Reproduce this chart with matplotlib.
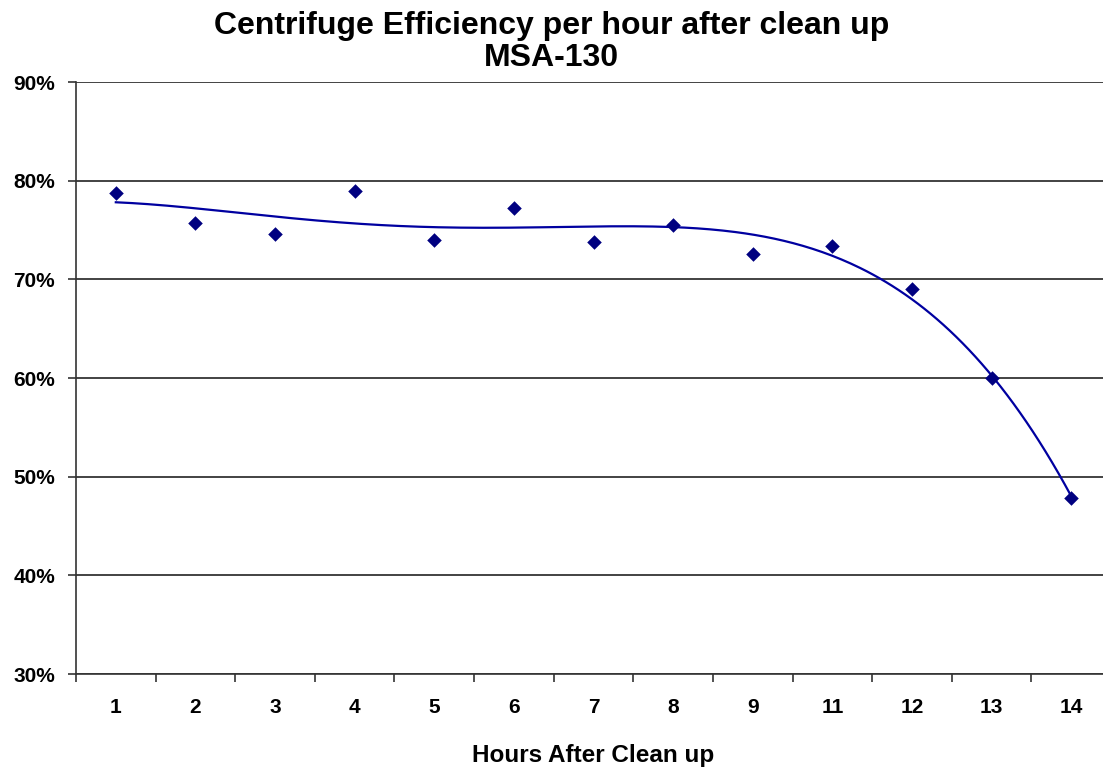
import matplotlib.pyplot as plt
import numpy as np
from matplotlib.ticker import FixedLocator, PercentFormatter

plt.rcParams['font.family'] = ['Liberation Sans', 'DejaVu Sans']
plt.rcParams['font.weight'] = 'bold'

hours = ['1', '2', '3', '4', '5', '6', '7', '8', '9', '11', '12', '13', '14']
efficiency = [78.8, 75.7, 74.6, 79.0, 74.0, 77.2, 73.8, 75.5, 72.6, 73.4, 69.0, 60.0, 47.8]
TREND_DEGREE = 4

fig = plt.figure(figsize=(11.03, 7.67), dpi=100)
ax = fig.add_axes([76 / 1103, 1 - 674 / 767, (1111 - 76) / 1103, (674 - 82) / 767])

x = np.arange(1, len(hours) + 1)
y = np.array(efficiency)

# polynomial trendline like excel
coef = np.polyfit(x, y, TREND_DEGREE)
xs = np.linspace(1, len(hours), 300)
ax.plot(xs, np.polyval(coef, xs), color='#0000a0', lw=1.6, zorder=3)
ax.scatter(x, y, marker='D', s=55, color='#000080', zorder=4, linewidths=0)

ax.set_xlim(0.5, len(hours) + 0.5)
ax.set_ylim(30, 90)
ax.set_yticks(np.arange(30, 91, 10))
ax.yaxis.set_major_formatter(PercentFormatter(decimals=0))
ax.set_xticks(x)
ax.set_xticklabels(hours)
ax.xaxis.set_minor_locator(FixedLocator(np.arange(0.5, len(hours) + 1, 1)))
ax.tick_params(axis='x', which='major', length=0, pad=17, labelsize=15)
ax.tick_params(axis='x', which='minor', length=6, width=1.2, color='#333333')
ax.tick_params(axis='y', length=6, width=1.2, pad=9, labelsize=15, color='#333333')
ax.grid(axis='y', color='#222222', lw=1.2)
ax.set_axisbelow(True)

for side in ['top', 'right']:
    ax.spines[side].set_visible(False)
for side in ['left', 'bottom']:
    ax.spines[side].set_color('#333333')
    ax.spines[side].set_linewidth(1.2)

ax.set_xlabel('Hours After Clean up', fontsize=17.5, fontweight='bold', labelpad=20)
fig.text(0.5, 1 - 11 / 767, 'Centrifuge Efficiency per hour after clean up\nMSA-130',
         ha='center', va='top', fontsize=23, fontweight='bold', linespacing=1.1)

fig.savefig('out.png', dpi=100)
